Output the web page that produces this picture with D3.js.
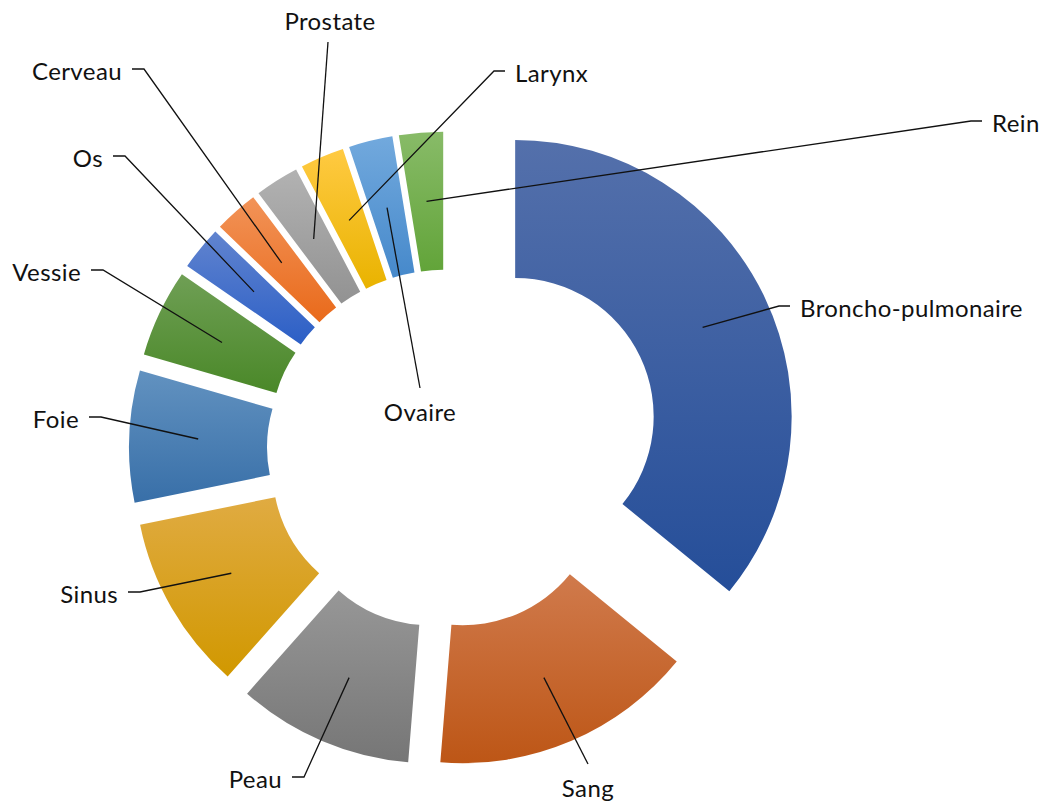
<!DOCTYPE html>
<html>
<head>
<meta charset="utf-8">
<script src="https://cdn.jsdelivr.net/npm/d3@7"></script>
<style>
  body { margin: 0; background: #fff; }
  text { font-family: Lato, "Open Sans", sans-serif; }
</style>
</head>
<body>
<script>
// data (number of cases per location)
var categories = ["Broncho-pulmonaire", "Sang", "Peau", "Sinus", "Foie", "Vessie",
                  "Os", "Cerveau", "Prostate", "Larynx", "Ovaire", "Rein"];
var values = [14, 6, 4, 4, 3, 2, 1, 1, 1, 1, 1, 1];
// gradient colours per slice: [top, bottom]
var topColors = ["#5470ab", "#d07a4c", "#979797", "#e0ab42", "#6292c0", "#6f9f55",
                 "#6184cf", "#f29358", "#b2b2b2", "#ffca42", "#72a9dd", "#88bb68"];
var bottomColors = ["#254e99", "#bd5616", "#767676", "#d19800", "#386fa8", "#4a8828",
                    "#2c5fc6", "#e96a1b", "#929292", "#e9b300", "#4689cb", "#62a439"];

var w = 1040, h = 801;
var cx = 446.5, cy = 449;
var outerR = 276.5, innerR = 138.5;
var explodeAll = 41, explodeFirst = 76;

// label placement (dragged by hand in the original): x, y, side
var labelLayout = [
  [800, 309, "right"], [588, 789, "below"], [282, 780, "left"], [118, 595, "left"],
  [79, 420, "left"], [81, 273, "left"], [103, 159, "left"], [122, 72, "left"],
  [330, 22, "above"], [515, 74, "right"], [420, 413, "below"], [992, 124, "right"]
];

var svg = d3.select("body").append("svg")
            .attr("width", w)
            .attr("height", h);

var defs = svg.append("defs");
categories.forEach(function(c, i) {
  var g = defs.append("linearGradient")
              .attr("id", "grad" + i)
              .attr("x1", 0).attr("y1", 0).attr("x2", 0).attr("y2", 1);
  g.append("stop").attr("offset", "0%").attr("stop-color", topColors[i]);
  g.append("stop").attr("offset", "100%").attr("stop-color", bottomColors[i]);
});

var pie = d3.pie().sort(null).value(function(d) { return d; });
var arcs = pie(values);
var arc = d3.arc().innerRadius(innerR).outerRadius(outerR);

function sliceCenter(d, i) {
  var a = (d.startAngle + d.endAngle) / 2;
  var off = i === 0 ? explodeFirst : explodeAll;
  return [cx + off * Math.sin(a), cy - off * Math.cos(a)];
}

var chart = svg.append("g");

chart.selectAll("path.slice")
     .data(arcs)
     .enter().append("path")
     .attr("class", "slice")
     .attr("transform", function(d, i) {
       var c = sliceCenter(d, i);
       return "translate(" + c[0] + "," + c[1] + ")";
     })
     .attr("d", arc)
     .attr("fill", function(d, i) { return "url(#grad" + i + ")"; });

// leader lines: from the middle of each slice to the label
var midR = (innerR + outerR) / 2;
var leaders = svg.append("g");
arcs.forEach(function(d, i) {
  var c = sliceCenter(d, i);
  var a = (d.startAngle + d.endAngle) / 2;
  var p0 = [c[0] + midR * Math.sin(a), c[1] - midR * Math.cos(a)];
  var L = labelLayout[i];
  var pts;
  if (L[2] === "right") {
    pts = [p0, [L[0] - 21, L[1] - 3], [L[0] - 10, L[1] - 3]];
  } else if (L[2] === "left") {
    pts = [p0, [L[0] + 22, L[1] - 3], [L[0] + 10, L[1] - 3]];
  } else if (L[2] === "above") {
    pts = [p0, [L[0] - 2, L[1] + 20]];
  } else {
    pts = [p0, [L[0], L[1] - 25]];
  }
  leaders.append("path")
         .attr("d", d3.line()(pts))
         .attr("fill", "none")
         .attr("stroke", "#111")
         .attr("stroke-width", 1.3);
});

svg.append("g").selectAll("text")
   .data(categories)
   .enter().append("text")
   .attr("x", function(d, i) { return labelLayout[i][0]; })
   .attr("y", function(d, i) { return labelLayout[i][1]; })
   .attr("dy", "0.35em")
   .attr("text-anchor", function(d, i) {
     var s = labelLayout[i][2];
     return s === "right" ? "start" : (s === "left" ? "end" : "middle");
   })
   .attr("font-size", 24)
   .attr("letter-spacing", 0.4)
   .attr("fill", "#111")
   .text(function(d) { return d; });
</script>
</body>
</html>
